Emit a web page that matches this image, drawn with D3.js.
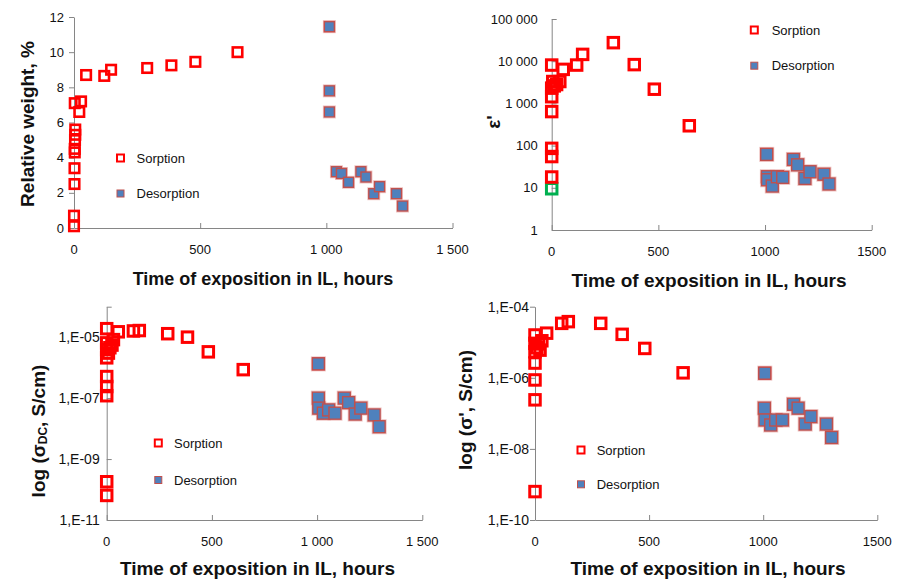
<!DOCTYPE html>
<html>
<head>
<meta charset="utf-8">
<script src="https://cdn.jsdelivr.net/npm/d3@7"></script>
<style>
  body { margin: 0; background: #fff; }
  text { font-family: "Liberation Sans", Arial, sans-serif; fill: #111; }
</style>
</head>
<body>
<svg id="chart" width="897" height="579"></svg>
<script>
// ---- data ----
const xTitle = "Time of exposition in IL, hours";
const legendNames = ["Sorption", "Desorption"];

// panel A: relative weight, %
const weightSorpTime = [0, 0, 2, 2, 3, 3, 4, 5, 5, 3, 21, 28, 48, 120, 147, 290, 386, 481, 648, 1012];
const weightSorp = [0.1, 0.7, 2.5, 3.4, 4.3, 4.5, 5.0, 5.3, 5.6, 7.1, 6.6, 7.2, 8.7, 8.65, 9.0, 9.1, 9.25, 9.45, 10.0, 11.45];
const weightDesTime = [1012, 1012, 1012, 1040, 1060, 1088, 1137, 1157, 1188, 1211, 1278, 1302];
const weightDes = [11.45, 7.8, 6.6, 3.2, 3.1, 2.6, 3.2, 2.9, 1.95, 2.35, 1.95, 1.25];
const weightXTicks = [0, 500, 1000, 1500];
const weightXLabels = ["0", "500", "1 000", "1 500"];
const weightYTicks = [0, 2, 4, 6, 8, 10, 12];

// panel B: epsilon'
const epsSorpTime = [0, 0, 0, 0, 0, 0, 0, 5, 12, 23, 38, 54, 117, 145, 289, 387, 481, 645, 1008];
const epsSorp = [18, 55, 86, 640, 1440, 2300, 8100, 3300, 2600, 2800, 3300, 6400, 8100, 14500, 27500, 8300, 2170, 295, 62];
const epsStartTime = [0];
const epsStart = [9.5];
const epsDesTime = [1008, 1011, 1012, 1034, 1058, 1083, 1133, 1153, 1187, 1211, 1276, 1300];
const epsDes = [62, 18.3, 15.5, 11, 18.3, 17.7, 47, 35, 16.7, 24, 21, 12.3];
const epsXTicks = [0, 500, 1000, 1500];
const epsXLabels = ["0", "500", "1000", "1500"];
const epsYTicks = [1, 10, 100, 1000, 10000, 100000];
const epsYLabels = ["1", "10", "100", "1 000", "10 000", "100 000"];

// panel C: sigma DC
const dcSorpTime = [0, 0, 0, 0, 0, 0, 0, 0, 0, 8, 15, 25, 32, 55, 127, 155, 290, 384, 483, 649, 1006];
const dcSorp = [1.9e-5, 6.5e-6, 3.9e-6, 2.1e-6, 5.1e-7, 2.4e-7, 1.2e-7, 1.8e-10, 6.4e-11, 3e-6, 4.5e-6, 5.5e-6, 8.3e-6, 1.5e-5, 1.6e-5, 1.65e-5, 1.3e-5, 1.0e-5, 3.3e-6, 8.6e-7, 1.33e-6];
const dcDesTime = [1006, 1006, 1008, 1030, 1055, 1085, 1129, 1150, 1181, 1208, 1271, 1295];
const dcDes = [1.33e-6, 1.0e-7, 4.7e-8, 3.2e-8, 4.1e-8, 3.2e-8, 1.0e-7, 7.1e-8, 3.0e-8, 4.7e-8, 2.8e-8, 1.15e-8];
const dcXTicks = [0, 500, 1000, 1500];
const dcXLabels = ["0", "500", "1 000", "1 500"];
const dcYTicks = [1e-11, 1e-9, 1e-7, 1e-5];
const dcYLabels = ["1,E-11", "1,E-09", "1,E-07", "1,E-05"];

// panel D: sigma'
const acSorpTime = [0, 0, 0, 0, 0, 0, 0, 8, 15, 22, 30, 51, 117, 146, 288, 382, 481, 649, 1007];
const acSorp = [1.6e-5, 9.3e-6, 5.4e-6, 2.6e-6, 8.7e-7, 2.4e-7, 6.3e-10, 7e-6, 9e-6, 6e-6, 1.1e-5, 1.8e-5, 3.4e-5, 3.8e-5, 3.4e-5, 1.67e-5, 6.7e-6, 1.38e-6, 1.35e-6];
const acDesTime = [1007, 1005, 1008, 1033, 1055, 1084, 1133, 1153, 1184, 1209, 1277, 1300];
const acDes = [1.35e-6, 1.4e-7, 6.5e-8, 4.7e-8, 6.5e-8, 6.5e-8, 1.8e-7, 1.4e-7, 5e-8, 8.1e-8, 5e-8, 2.1e-8];
const acXTicks = [0, 500, 1000, 1500];
const acXLabels = ["0", "500", "1000", "1500"];
const acYTicks = [1e-10, 1e-8, 1e-6, 1e-4];
const acYLabels = ["1,E-10", "1,E-08", "1,E-06", "1,E-04"];

const red = "#ff0000", blue = "#4f81bd", blueEdge = "#c0504d", green = "#00b050";
const svg = d3.select("#chart");

function zip(a, b) { return a.map((d, i) => [d, b[i]]); }

function drawPanel(p) {
  const g = svg.append("g");
  const x = d3.scaleLinear().domain([0, 1500]).range(p.xRange);
  const y = (p.log ? d3.scaleLog() : d3.scaleLinear()).domain(p.yDomain).range(p.yRange);
  const axisY = p.yRange[0], axisX = p.xRange[0];

  // x axis: line + inward ticks
  g.append("g")
    .attr("transform", `translate(0,${axisY})`)
    .call(d3.axisBottom(x).tickValues(p.xTicks).tickSizeInner(-5).tickSizeOuter(0).tickFormat(""))
    .call(a => a.selectAll("path,line").attr("stroke", "#868686"));
  g.selectAll(".xl").data(p.xTicks).join("text")
    .attr("x", d => x(d)).attr("y", axisY + 26)
    .attr("text-anchor", "middle").attr("font-size", 13)
    .text((d, i) => p.xLabels[i]);

  // y axis
  const yAxis = p.yTickSide < 0 ? d3.axisLeft(y) : d3.axisRight(y);
  g.append("g")
    .attr("transform", `translate(${axisX},0)`)
    .call(yAxis.tickValues(p.yTicks.concat(p.yExtraTick || [])).tickSize(5).tickSizeOuter(0).tickFormat(""))
    .call(a => a.selectAll("path,line").attr("stroke", "#868686"));
  g.selectAll(".yl").data(p.yTicks).join("text")
    .attr("x", axisX - p.yLabelGap).attr("y", d => y(d)).attr("dy", "0.35em")
    .attr("text-anchor", "end").attr("font-size", p.yFont)
    .text((d, i) => p.yLabels[i]);

  // titles
  g.append("text")
    .attr("x", p.xTitlePos[0]).attr("y", p.xTitlePos[1])
    .attr("text-anchor", "middle").attr("font-size", p.titleFont).attr("font-weight", "bold")
    .text(xTitle);
  const yt = g.append("text")
    .attr("transform", `translate(${p.yTitlePos[0]},${p.yTitlePos[1]}) rotate(-90)`)
    .attr("text-anchor", "middle").attr("dominant-baseline", "central")
    .attr("font-size", 19).attr("font-weight", "bold");
  p.yTitle(yt);

  const s = p.sorpSize, ds = p.desSize;
  // extra (green) start point
  if (p.extra) {
    g.selectAll(".ex").data(p.extra).join("rect")
      .attr("x", d => x(d[0]) - s / 2).attr("y", d => y(d[1]) - s / 2)
      .attr("width", s).attr("height", s)
      .attr("fill", "none").attr("stroke", green).attr("stroke-width", p.sorpStroke);
  }
  g.selectAll(".so").data(p.sorp).join("rect")
    .attr("x", d => x(d[0]) - s / 2).attr("y", d => y(d[1]) - s / 2)
    .attr("width", s).attr("height", s)
    .attr("fill", "none").attr("stroke", red).attr("stroke-width", p.sorpStroke);
  g.selectAll(".dh").data(p.des).join("rect")
    .attr("x", d => x(d[0]) - ds / 2 - 1).attr("y", d => y(d[1]) - ds / 2 - 1)
    .attr("width", ds + 2).attr("height", ds + 2)
    .attr("fill", "none").attr("stroke", "#efc4c3").attr("stroke-width", 1);
  g.selectAll(".de").data(p.des).join("rect")
    .attr("x", d => x(d[0]) - ds / 2).attr("y", d => y(d[1]) - ds / 2)
    .attr("width", ds).attr("height", ds)
    .attr("fill", blue).attr("stroke", blueEdge).attr("stroke-width", 1.4);

  // legend
  const [lx, ly1, ly2, tx] = p.legend;
  g.append("rect").attr("x", lx - 3.5).attr("y", ly1 - 3.5).attr("width", 7).attr("height", 7)
    .attr("fill", "none").attr("stroke", red).attr("stroke-width", 2);
  g.append("rect").attr("x", lx - 3.5).attr("y", ly2 - 3.5).attr("width", 7).attr("height", 7)
    .attr("fill", blue).attr("stroke", blueEdge).attr("stroke-width", 1);
  g.append("text").attr("x", tx).attr("y", ly1).attr("dy", "0.35em").attr("font-size", 13).text(legendNames[0]);
  g.append("text").attr("x", tx).attr("y", ly2).attr("dy", "0.35em").attr("font-size", 13).text(legendNames[1]);
}

drawPanel({
  xRange: [74, 452.5], yRange: [228, 17], yDomain: [0, 12], log: false,
  xTicks: weightXTicks, xLabels: weightXLabels,
  yTicks: weightYTicks, yLabels: weightYTicks.map(String), yTickSide: -1, yLabelGap: 10, yFont: 13,
  xTitlePos: [263, 285], titleFont: 18, yTitlePos: [27, 124],
  yTitle: t => t.text("Relative weight, %"),
  sorp: zip(weightSorpTime, weightSorp), des: zip(weightDesTime, weightDes),
  sorpSize: 9.5, sorpStroke: 2.6, desSize: 10,
  legend: [120.5, 158, 193.5, 136.5]
});

drawPanel({
  xRange: [551.7, 871.7], yRange: [230, 19], yDomain: [1, 100000], log: true,
  xTicks: epsXTicks, xLabels: epsXLabels,
  yTicks: epsYTicks, yLabels: epsYLabels, yTickSide: 1, yLabelGap: 14, yFont: 13,
  xTitlePos: [709, 287], titleFont: 19, yTitlePos: [493, 122],
  yTitle: t => t.text("ε'"),
  sorp: zip(epsSorpTime, epsSorp), des: zip(epsDesTime, epsDes), extra: zip(epsStartTime, epsStart),
  sorpSize: 10.5, sorpStroke: 3, desSize: 12,
  legend: [754.3, 30, 65.7, 771.7]
});

drawPanel({
  xRange: [106.7, 422.3], yRange: [520, 306.7], yDomain: [1e-11, 1e-4], log: true,
  xTicks: dcXTicks, xLabels: dcXLabels,
  yTicks: dcYTicks, yLabels: dcYLabels, yExtraTick: [1e-4], yTickSide: 1, yLabelGap: 7, yFont: 14,
  xTitlePos: [257.5, 575], titleFont: 19, yTitlePos: [38, 431],
  yTitle: t => {
    t.append("tspan").text("log (σ");
    t.append("tspan").attr("font-size", 12).attr("dy", 5).text("DC");
    t.append("tspan").attr("dy", -5).text(", S/cm)");
  },
  sorp: zip(dcSorpTime, dcSorp), des: zip(dcDesTime, dcDes),
  sorpSize: 10.5, sorpStroke: 3, desSize: 12,
  legend: [158.3, 443, 480, 174]
});

drawPanel({
  xRange: [535, 877.3], yRange: [520, 306.7], yDomain: [1e-10, 1e-4], log: true,
  xTicks: acXTicks, xLabels: acXLabels,
  yTicks: acYTicks, yLabels: acYLabels, yTickSide: -1, yLabelGap: 6, yFont: 14,
  xTitlePos: [708, 575], titleFont: 19, yTitlePos: [465, 410],
  yTitle: t => t.text("log (σ', S/cm)"),
  sorp: zip(acSorpTime, acSorp), des: zip(acDesTime, acDes),
  sorpSize: 10.5, sorpStroke: 3, desSize: 12,
  legend: [581, 450, 484.3, 596.7]
});
</script>
</body>
</html>
